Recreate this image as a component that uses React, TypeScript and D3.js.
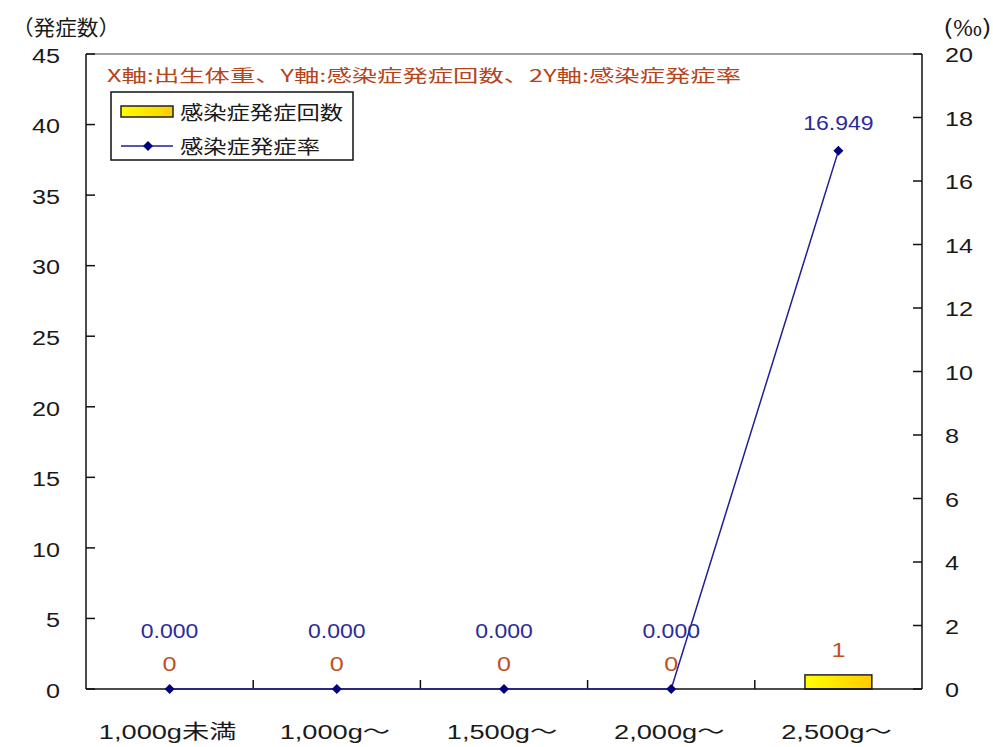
import React from "react";
import * as d3 from "d3";

const categories = ["1,000g未満", "1,000g〜", "1,500g〜", "2,000g〜", "2,500g〜"];
const counts = [0, 0, 0, 0, 1];
const rates = [0, 0, 0, 0, 16.949];
const leftTicks = [0, 5, 10, 15, 20, 25, 30, 35, 40, 45];
const rightTicks = [0, 2, 4, 6, 8, 10, 12, 14, 16, 18, 20];
const titleText = "X軸:出生体重、Y軸:感染症発症回数、2Y軸:感染症発症率";
const legendCount = "感染症発症回数";
const legendRate = "感染症発症率";
const leftAxisTitle = "（発症数）";
const rightAxisTitle = "(‰)";

const W = 993;
const H = 747;
const M = { left: 86, right: 922, top: 54, bottom: 689 };
const NUM_FONT = "'Liberation Sans', Arial, 'Noto Sans CJK JP', sans-serif";
const JP_FONT = "'Noto Sans CJK JP', 'Noto Sans', sans-serif";
const TITLE_COLOR = "#b5441b";
const COUNT_COLOR = "#bd5226";
const RATE_COLOR = "#2b2b9b";
const LINE_COLOR = "#1f1f96";
const MARKER_COLOR = "#000080";

function SText(props: {
  x: number;
  y: number;
  sx: number;
  size: number;
  anchor?: string;
  fill?: string;
  font?: string;
  children: React.ReactNode;
}) {
  const { x, y, sx, size, anchor = "middle", fill = "#1a1a1a", font = NUM_FONT, children } = props;
  return (
    <text
      transform={`translate(${x},${y}) scale(${sx},1)`}
      textAnchor={anchor}
      dominantBaseline="central"
      fontSize={size}
      fontFamily={font}
      fill={fill}
    >
      {children}
    </text>
  );
}

function LText(props: {
  x: number;
  y: number;
  w: number;
  size: number;
  fill?: string;
  children: React.ReactNode;
}) {
  const { x, y, w, size, fill = "#1a1a1a", children } = props;
  return (
    <text
      x={x}
      y={y}
      textLength={w}
      lengthAdjust="spacingAndGlyphs"
      dominantBaseline="central"
      fontSize={size}
      fontFamily={JP_FONT}
      fill={fill}
    >
      {children}
    </text>
  );
}

const diamond = (cx: number, cy: number, r: number) =>
  `M${cx},${cy - r}L${cx + r},${cy}L${cx},${cy + r}L${cx - r},${cy}Z`;

export default function App() {
  const x = d3.scaleBand<string>().domain(categories).range([M.left, M.right]).paddingInner(0).paddingOuter(0);
  const yL = d3.scaleLinear().domain([0, 45]).range([M.bottom, M.top]);
  const yR = d3.scaleLinear().domain([0, 20]).range([M.bottom, M.top]);
  const bw = x.bandwidth();
  const cx = (c: string) => (x(c) as number) + bw / 2;
  const barW = bw * 0.4;

  const line = d3
    .line<number>()
    .x((_, i) => cx(categories[i]))
    .y((d) => yR(d));

  const boundaries = categories.slice(1).map((c) => x(c) as number);

  return (
    <svg width={W} height={H} style={{ position: "absolute", left: 0, top: 0, background: "#fff" }}>
      <defs>
        <linearGradient id="barGrad" x1="0" x2="1" y1="0" y2="0">
          <stop offset="0" stopColor="#ffff00" />
          <stop offset="1" stopColor="#ffcc00" />
        </linearGradient>
      </defs>
      <rect x={0} y={0} width={W} height={H} fill="#fff" />

      {/* frame */}
      <line x1={M.left} x2={M.right} y1={M.top} y2={M.top} stroke="#808080" strokeWidth={1.5} />
      <line x1={M.left} x2={M.left} y1={M.top} y2={M.bottom} stroke="#111" strokeWidth={1.5} />
      <line x1={M.right} x2={M.right} y1={M.top} y2={M.bottom} stroke="#111" strokeWidth={1.5} />

      {/* left ticks */}
      {leftTicks.map((t) => (
        <g key={"l" + t}>
          <line x1={M.left} x2={M.left + 9} y1={yL(t)} y2={yL(t)} stroke="#111" strokeWidth={1.5} />
          <SText x={60} y={yL(t) + 1.5} sx={1.2} size={21} anchor="end">
            {t}
          </SText>
        </g>
      ))}
      {/* right ticks */}
      {rightTicks.map((t) => (
        <g key={"r" + t}>
          <line x1={M.right - 9} x2={M.right} y1={yR(t)} y2={yR(t)} stroke="#111" strokeWidth={1.5} />
          <SText x={945} y={yR(t) + 1} sx={1.2} size={21} anchor="start">
            {t}
          </SText>
        </g>
      ))}

      {/* bars */}
      {counts.map((v, i) =>
        v > 0 ? (
          <rect
            key={"b" + i}
            x={cx(categories[i]) - barW / 2}
            y={yL(v)}
            width={barW}
            height={yL(0) - yL(v)}
            fill="url(#barGrad)"
            stroke="#222"
            strokeWidth={1.5}
          />
        ) : null
      )}

      {/* x axis */}
      <line x1={M.left} x2={M.right} y1={M.bottom} y2={M.bottom} stroke="#111" strokeWidth={1.5} />
      {boundaries.map((b, i) => (
        <line key={"xt" + i} x1={b} x2={b} y1={M.bottom} y2={M.bottom - 9} stroke="#111" strokeWidth={1.5} />
      ))}
      {categories.map((c) => (
        <SText key={"xl" + c} x={cx(c) - 2} y={732} sx={1.36} size={20}>
          {c}
        </SText>
      ))}

      {/* rate line */}
      <path d={line(rates) || ""} fill="none" stroke={LINE_COLOR} strokeWidth={1.5} />
      {rates.map((v, i) => (
        <path key={"m" + i} d={diamond(cx(categories[i]), yR(v), 5)} fill={MARKER_COLOR} />
      ))}

      {/* count labels */}
      {counts.map((v, i) => (
        <SText key={"cl" + i} x={cx(categories[i])} y={yL(v) - 25} sx={1.2} size={21} fill={COUNT_COLOR}>
          {v}
        </SText>
      ))}
      {/* rate labels */}
      {rates.map((v, i) => {
        const ly = Math.min(yR(v) - 28, yL(counts[i]) - 58);
        return (
          <SText key={"rl" + i} x={cx(categories[i])} y={ly} sx={1.15} size={20} fill={RATE_COLOR}>
            {v.toFixed(3)}
          </SText>
        );
      })}

      {/* title */}
      <LText x={107} y={74} w={634} size={17} fill={TITLE_COLOR}>
        {titleText}
      </LText>

      {/* legend */}
      <rect x={111} y={92} width={242} height={68} fill="#fff" stroke="#111" strokeWidth={1.5} />
      <rect x={121} y={106} width={52} height={11} fill="url(#barGrad)" stroke="#222" strokeWidth={1.5} />
      <LText x={180} y={111} w={163} size={19}>
        {legendCount}
      </LText>
      <line x1={121} x2={173} y1={146} y2={146} stroke={LINE_COLOR} strokeWidth={1.5} />
      <path d={diamond(148, 146, 5)} fill={MARKER_COLOR} />
      <LText x={180} y={145} w={140} size={19}>
        {legendRate}
      </LText>

      {/* axis titles */}
      <LText x={12} y={26} w={108} size={21}>
        {leftAxisTitle}
      </LText>
      <LText x={943} y={26} w={49} size={21}>
        {rightAxisTitle}
      </LText>
    </svg>
  );
}
